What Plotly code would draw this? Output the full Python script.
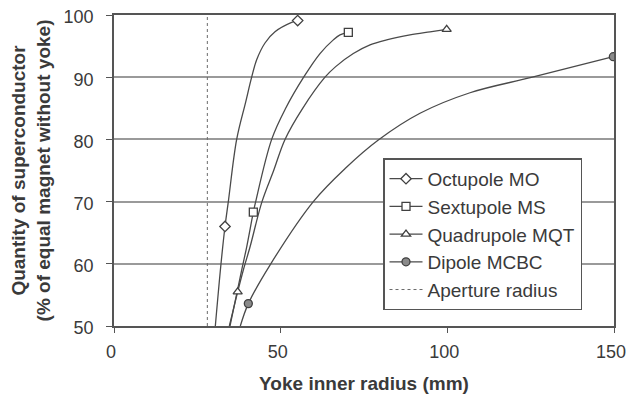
import plotly.graph_objects as go

# Values: points along each drawn curve,
# ordered from the upper marker downwards. *_mark = indices that carry a marker.
oct_x = [55.1, 53.3, 48.3, 45.3, 42.8, 41.3, 39.5, 36.8, 34.3, 33.3, 32.1, 30.4]
oct_y = [99.1, 98.8, 97.3, 95.5, 92.8, 90.0, 86.0, 80.0, 70.0, 66.0, 60.0, 50.0]
oct_mark = [0, 9]

sext_x = [70.3, 67.8, 65.8, 61.8, 56.9, 51.5, 47.3, 42.5, 41.8, 39.8, 38.3, 34.8]
sext_y = [97.2, 96.8, 96.0, 93.8, 90.0, 85.0, 80.0, 70.0, 68.3, 62.7, 59.0, 50.0]
sext_mark = [0, 8]

quad_x = [99.8, 94.8, 88.8, 81.8, 76.8, 71.8, 66.5, 63.3, 56.6, 51.3, 47.9, 44.4, 40.8, 38.8, 37.1, 34.6]
quad_y = [97.7, 97.3, 96.8, 96.0, 95.2, 93.8, 91.7, 90.0, 85.0, 80.0, 75.0, 70.0, 62.7, 59.0, 55.5, 50.0]
quad_mark = [0, 14]

dip_x = [149.8, 125.5, 106.8, 91.8, 79.3, 69.5, 59.8, 46.8, 40.3, 37.9]
dip_y = [93.3, 90.0, 87.5, 84.2, 79.9, 75.4, 70.0, 59.8, 53.6, 50.0]
dip_mark = [0, 8]

aperture_x = [28.0, 28.0]
aperture_y = [50.0, 100.0]

x_ticks = [0, 50, 100, 150]
y_ticks = [50, 60, 70, 80, 90, 100]

line_col = "#4a4a4a"
edge_col = "#404040"
clear = "rgba(0,0,0,0)"
fig = go.Figure()


def add(name, x, y, marks, symbol, fill):
    fills = [fill if i in marks else clear for i in range(len(x))]
    edges = [edge_col if i in marks else clear for i in range(len(x))]
    fig.add_trace(go.Scatter(
        x=x, y=y, name=name, mode="lines+markers",
        line=dict(color=line_col, width=1.3, shape="spline", smoothing=1.0),
        marker=dict(symbol=symbol, size=8, color=fills,
                    line=dict(color=edges, width=1.3)),
    ))


add("Octupole MO", oct_x, oct_y, oct_mark, "diamond", "white")
add("Sextupole MS", sext_x, sext_y, sext_mark, "square", "white")
add("Quadrupole MQT", quad_x, quad_y, quad_mark, "triangle-up", "white")
add("Dipole MCBC", dip_x, dip_y, dip_mark, "circle", "#8a8a8a")
fig.add_trace(go.Scatter(
    x=aperture_x, y=aperture_y, name="Aperture radius", mode="lines",
    line=dict(color="#6a6a6a", width=1, dash="dot"),
))

# the page body adds an 8px offset on every side, so the figure is sized to fit inside it
fig.update_layout(
    width=618, height=389,
    margin=dict(l=106, r=12, t=7, b=71, autoexpand=False),
    paper_bgcolor="white", plot_bgcolor="white",
    font=dict(family="Liberation Sans, Arial, sans-serif", size=18, color="#3a3a3a"),
    showlegend=True,
    legend=dict(
        x=0.538, y=0.539, xanchor="left", yanchor="top",
        bgcolor="white", bordercolor="#555555", borderwidth=1.5,
        font=dict(size=19, color="#3a3a3a"), tracegroupgap=0, itemwidth=33,
    ),
    xaxis=dict(
        range=[0, 150], tickvals=x_ticks, showgrid=False, automargin=False,
        showline=True, linecolor="#555555", linewidth=1.5, mirror=True,
        ticks="outside", ticklen=5, tickcolor="#555555",
        zeroline=False, tickfont=dict(size=18), ticklabelstandoff=4,
        ticklabelshift=-3, ticklabeloverflow="allow",
        title=dict(text="<b>Yoke inner radius (mm)</b>", font=dict(size=19, color="#3a3a3a"), standoff=15),
    ),
    yaxis=dict(
        range=[50, 100], tickvals=y_ticks, automargin=False,
        showgrid=True, gridcolor="#9a9a9a", gridwidth=1.5,
        showline=True, linecolor="#555555", linewidth=1.5, mirror=True,
        ticks="outside", ticklen=6, tickcolor="#555555",
        zeroline=False, tickfont=dict(size=18), ticklabelstandoff=9,
        ticklabelshift=2, ticklabeloverflow="allow",
        title=dict(text="<b>Quantity of superconductor<br>(% of equal magnet without yoke)</b>",
                   font=dict(size=19, color="#3a3a3a"), standoff=19),
    ),
)

fig.write_html("out.html")
